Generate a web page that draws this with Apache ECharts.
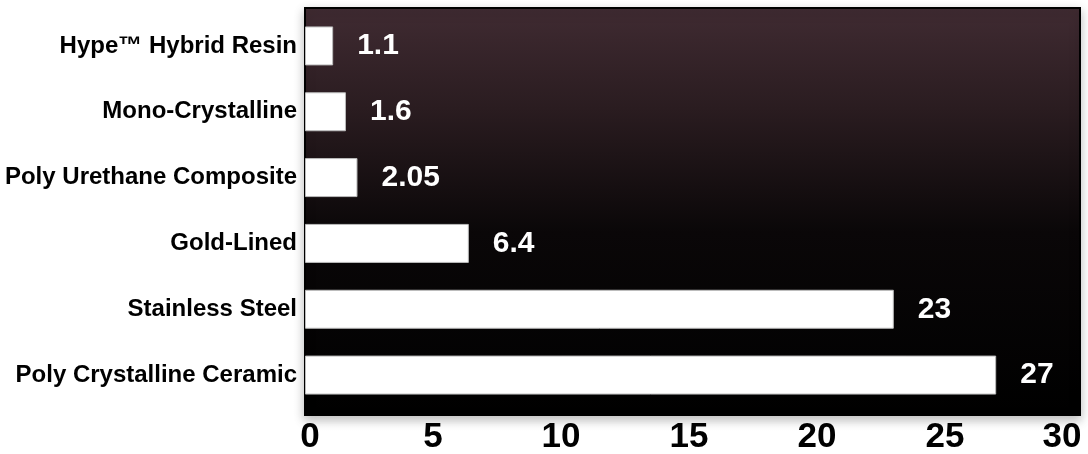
<!DOCTYPE html>
<html>
<head>
<meta charset="utf-8">
<script src="https://cdn.jsdelivr.net/npm/echarts@6/dist/echarts.min.js"></script>
<style>
html,body{margin:0;padding:0;background:#fff;}
#c{width:1088px;height:454px;}
</style>
</head>
<body>
<div id="c"></div>
<script>
const categories = ['Hype™ Hybrid Resin','Mono-Crystalline','Poly Urethane Composite','Gold-Lined','Stainless Steel','Poly Crystalline Ceramic'];
const values = [1.1, 1.6, 2.05, 6.4, 23, 27];
const valueLabels = ['1.1','1.6','2.05','6.4','23','27'];
const xTicks = [0,5,10,15,20,25,30];

const chart = echarts.init(document.getElementById('c'));
chart.setOption({
  backgroundColor:'#ffffff',
  animation:false,
  graphic:[{
    type:'rect',
    z:-10,
    shape:{x:305,y:8,width:775,height:407},
    style:{
      fill:new echarts.graphic.LinearGradient(0,0,0,1,[
        {offset:0,color:'#402b32'},
        {offset:0.25,color:'#2a1c20'},
        {offset:0.55,color:'#0a0708'},
        {offset:1,color:'#000000'}
      ]),
      stroke:'#000',
      lineWidth:2,
      shadowBlur:10,
      shadowColor:'rgba(0,0,0,0.25)',
      shadowOffsetY:4
    }
  }],
  grid:{left:305,right:15,top:13,bottom:46,containLabel:false,outerBoundsMode:'none'},
  xAxis:{
    type:'value',min:0,max:30,interval:5,
    axisLine:{show:false},axisTick:{show:false},splitLine:{show:false},
    axisLabel:{
      margin:12,color:'#000',fontSize:35,fontWeight:'bold',fontFamily:'Liberation Sans, Arial, sans-serif',
      formatter:function(v){
        if (v===30) return '{e|30}';
        if (v===0) return '{s|0}';
        return String(v);
      },
      rich:{
        e:{fontSize:35,fontWeight:'bold',fontFamily:'Liberation Sans, Arial, sans-serif',color:'#000',padding:[0,22,0,0]},
        s:{fontSize:35,fontWeight:'bold',fontFamily:'Liberation Sans, Arial, sans-serif',color:'#000',padding:[0,0,0,10]}
      }
    }
  },
  yAxis:{
    type:'category',data:categories,inverse:true,
    axisLine:{show:false},axisTick:{show:false},splitLine:{show:false},
    axisLabel:{margin:8,color:'#000',fontSize:24,fontWeight:'bold',fontFamily:'Liberation Sans, Arial, sans-serif'}
  },
  series:[{
    type:'bar',
    data:values,
    barWidth:39,
    itemStyle:{color:'#ffffff',borderColor:'#bbbbbb',borderWidth:1},
    label:{
      show:true,position:'right',distance:24,color:'#ffffff',fontSize:30,fontWeight:'bold',
      fontFamily:'Liberation Sans, Arial, sans-serif',
      formatter:function(p){ return valueLabels[p.dataIndex]; }
    }
  }]
});
</script>
</body>
</html>
